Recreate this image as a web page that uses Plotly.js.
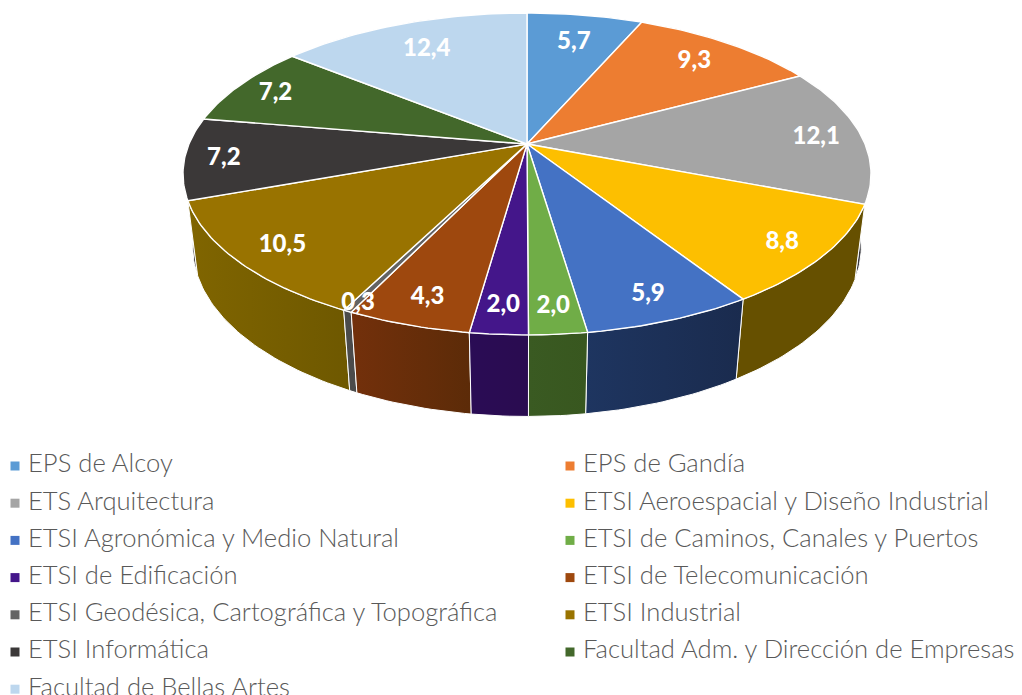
<!DOCTYPE html>
<html>
<head>
<meta charset="utf-8">
<script src="https://cdn.plot.ly/plotly-3.0.1.min.js"></script>
<style>body { margin: 0; background: #fff; }</style>
</head>
<body>
<div id="chart" style="width:1022px;height:695px"></div>
<script>
var schools = ['EPS de Alcoy', 'EPS de Gandía', 'ETS Arquitectura', 'ETSI Aeroespacial y Diseño Industrial',
    'ETSI Agronómica y Medio Natural', 'ETSI de Caminos, Canales y Puertos', 'ETSI de Edificación',
    'ETSI de Telecomunicación', 'ETSI Geodésica, Cartográfica y Topográfica', 'ETSI Industrial',
    'ETSI Informática', 'Facultad Adm. y Dirección de Empresas', 'Facultad de Bellas Artes'];
var shares = [5.7, 9.3, 12.1, 8.8, 5.9, 2.0, 2.0, 4.3, 0.3, 10.5, 7.2, 7.2, 12.4];

var topColors = ['#5B9BD5', '#ED7D31', '#A5A5A5', '#FDBF00', '#4472C4', '#70AD47', '#44168A',
    '#9E480E', '#636363', '#997300', '#3B3838', '#43682B', '#BDD7EE'];
// side wall shading, left edge to right edge
var wallLeft = ['#2E4E6B', '#773E18', '#3A3A40', '#665000', '#1E3560', '#3A5A22', '#2A0C55',
    '#73300B', '#4B4B4B', '#806500', '#1E1C1C', '#223415', '#5F6B77'];
var wallRight = ['#2E4E6B', '#773E18', '#3A3A40', '#665000', '#1A2B4E', '#38571F', '#2A0C50',
    '#5C2B08', '#4B4B4B', '#6E5800', '#1E1C1C', '#223415', '#5F6B77'];
// how far out each value label sits, as a share of the radius
var labelRadius = [0.78, 0.815, 0.866, 0.875, 0.867, 0.867, 0.866, 0.86, 0.95, 0.864, 0.887, 0.871, 0.781];

// perspective of the tilted disc, in page pixels
var cx = 527, cy = 144, fx = 338, fy = 155.4, tilt = 0.186;
var wallDrop = 74, wallShrink = 0.028;

function project(angle, r, lower) {
    var px = r * Math.sin(angle), py = r * Math.cos(angle);
    var w = 1 + tilt * py + (lower ? wallShrink : 0);
    return [cx + fx * px / w, cy + (-fy * py + (lower ? wallDrop : 0)) / w];
}

function arc(a0, a1, lower) {
    var n = Math.max(2, Math.ceil((a1 - a0) / (Math.PI / 180)));
    var pts = [];
    for (var i = 0; i <= n; i++) pts.push(project(a0 + (a1 - a0) * i / n, 1, lower));
    return pts;
}

var total = shares.reduce(function (s, v) { return s + v; }, 0);
var run = 0;
var slices = shares.map(function (v) {
    var s = { a0: run / total * 2 * Math.PI };
    run += v;
    s.a1 = run / total * 2 * Math.PI;
    s.mid = (s.a0 + s.a1) / 2;
    return s;
});

function polyTrace(pts, lineWidth, extra) {
    var t = {
        type: 'scatter', mode: 'lines', fill: 'toself', hoverinfo: 'skip', showlegend: false,
        x: pts.map(function (p) { return p[0]; }),
        y: pts.map(function (p) { return p[1]; }),
        line: { color: '#ffffff', width: lineWidth }
    };
    return Object.assign(t, extra);
}

// walls first, back ones before front ones, then the top faces over them
var order = slices.map(function (s, i) { return i; }).sort(function (a, b) {
    return Math.cos(slices[b].mid) - Math.cos(slices[a].mid);
});
var data = [];
order.forEach(function (i) {
    var s = slices[i];
    var pts = arc(s.a0, s.a1, false).concat(arc(s.a0, s.a1, true).reverse());
    pts.push(pts[0]);
    data.push(polyTrace(pts, 1, {
        fillgradient: { type: 'horizontal', colorscale: [[0, wallLeft[i]], [1, wallRight[i]]] }
    }));
});
slices.forEach(function (s, i) {
    var pts = [[cx, cy]].concat(arc(s.a0, s.a1, false));
    pts.push([cx, cy]);
    data.push(polyTrace(pts, 1.4, { fillcolor: topColors[i] }));
});

// value labels
var labelPts = slices.map(function (s, i) { return project(s.mid, labelRadius[i], false); });
data.push({
    type: 'scatter', mode: 'text', hoverinfo: 'skip', showlegend: false, cliponaxis: false,
    x: labelPts.map(function (p) { return p[0]; }),
    y: labelPts.map(function (p) { return p[1] + 2.5; }),
    text: shares.map(function (v) { return v.toFixed(1).replace('.', ','); }),
    textposition: 'middle center',
    textfont: { family: 'Lato', size: 24, color: '#ffffff', weight: 900 }
});

// legend, two columns
var legendX = schools.map(function (n, i) { return i % 2 ? 570 : 15; });
var legendY = schools.map(function (n, i) { return 466 + Math.floor(i / 2) * 37.2; });
data.push({
    type: 'scatter', mode: 'markers', hoverinfo: 'skip', showlegend: false, cliponaxis: false,
    x: legendX, y: legendY,
    marker: { symbol: 'square', size: 9, color: topColors }
});
data.push({
    type: 'scatter', mode: 'text', hoverinfo: 'skip', showlegend: false, cliponaxis: false,
    x: legendX.map(function (x) { return x + 13; }), y: legendY,
    text: schools,
    textposition: 'middle right',
    textfont: { family: 'Lato', size: 25.6, color: '#595959', weight: 300 }
});

var layout = {
    width: 1022, height: 695,
    margin: { l: 0, r: 0, t: 0, b: 0 },
    paper_bgcolor: '#ffffff', plot_bgcolor: '#ffffff',
    showlegend: false,
    xaxis: { range: [0, 1022], visible: false, fixedrange: true },
    yaxis: { range: [695, 0], visible: false, fixedrange: true }
};
Plotly.newPlot('chart', data, layout, { displayModeBar: false, staticPlot: true });
</script>
</body>
</html>
